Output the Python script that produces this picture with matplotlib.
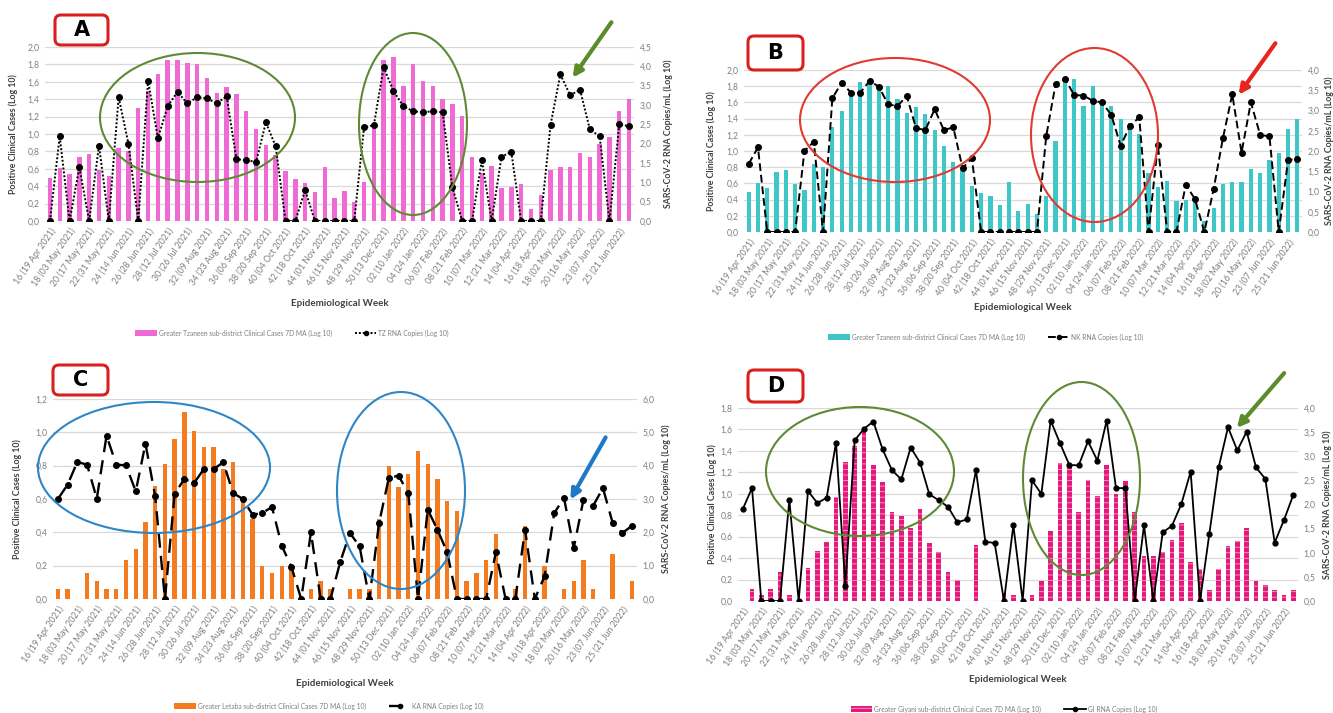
import matplotlib
matplotlib.use("Agg")
import matplotlib.pyplot as plt
import numpy as np
from matplotlib.patches import Ellipse, FancyBboxPatch, FancyArrowPatch, Patch
from matplotlib.lines import Line2D
from matplotlib.ticker import FuncFormatter, MultipleLocator

W, H = 1333, 713
plt.rcParams["font.family"] = ["Lato", "DejaVu Sans"]
plt.rcParams["hatch.linewidth"] = 0.6

# Epidemiological weeks (every second week is labelled on the axis)
week_labels = [
    "16 (19 Apr 2021)", "18 (03 May 2021)", "20 (17 May 2021)", "22 (31 May 2021)",
    "24 (14 Jun 2021)", "26 (28 Jun 2021)", "28 (12 Jul 2021)", "30 (26 Jul 2021)",
    "32 (09 Aug 2021)", "34 (23 Aug 2021)", "36 (06 Sep 2021)", "38 (20 Sep 2021)",
    "40 (04 Oct 2021)", "42 (18 Oct 2021)", "44 (01 Nov 2021)", "46 (15 Nov 2021)",
    "48 (29 Nov 2021)", "50 (13 Dec 2021)", "02 (10 Jan 2022)", "04 (24 Jan 2022)",
    "06 (07 Feb 2022)", "08 (21 Feb 2022)", "10 (07 Mar 2022)", "12 (21 Mar 2022)",
    "14 (04 Apr 2022)", "16 (18 Apr 2022)", "18 (02 May 2022)", "20 (16 May 2022)",
    "23 (07 Jun 2022)", "25 (21 Jun 2022)",
]
n_weeks = 60

# Greater Tzaneen clinical cases, 7-day moving average (log10)
tz_cases = [0.50, 0.61, 0.545, 0.74, 0.77, 0.59, 0.52, 0.84, 0.80, 1.30,
            1.50, 1.69, 1.85, 1.855, 1.82, 1.80, 1.64, 1.47, 1.54, 1.46,
            1.26, 1.06, 0.87, 0.76, 0.57, 0.48, 0.44, 0.33, 0.62, 0.26,
            0.35, 0.22, 0.45, 1.12, 1.85, 1.89, 1.55, 1.80, 1.61, 1.55,
            1.40, 1.34, 1.21, 0.73, 0.55, 0.63, 0.38, 0.39, 0.42, 0.14,
            0.30, 0.59, 0.62, 0.62, 0.78, 0.73, 0.89, 0.97, 1.27, 1.40]
# TZ wastewater SARS-CoV-2 RNA copies/mL (log10)
tz_rna = [0, 2.19, 0, 1.39, 0, 1.95, 0, 3.20, 2.00, 0,
          3.63, 2.14, 2.97, 3.34, 3.04, 3.20, 3.17, 3.04, 3.23, 1.60,
          1.57, 1.53, 2.55, 1.93, 0, 0, 0.80, 0, 0, 0,
          0, 0, 2.42, 2.48, 3.98, 3.36, 2.97, 2.84, 2.81, 2.84,
          2.81, 0.87, 0, 0, 1.57, 0, 1.66, 1.79, 0, 0,
          0, 2.49, 3.79, 3.25, 3.40, 2.37, 2.19, 0, 2.50, 2.45]
# NK wastewater RNA copies/mL (log10)
nk_rna = [1.68, 2.09, 0, 0, 0, 0, 2.00, 2.23, 0, 3.30,
          3.69, 3.44, 3.44, 3.73, 3.59, 3.15, 3.11, 3.36, 2.56, 2.52,
          3.03, 2.51, 2.59, 1.58, 1.82, 0, 0, 0, 0, 0,
          0, 0, 2.37, 3.65, 3.79, 3.38, 3.37, 3.24, 3.20, 2.89,
          2.13, 2.62, 2.83, 0, 2.15, 0, 0, 1.17, 0.81, 0,
          1.06, 2.32, 3.40, 1.96, 3.20, 2.40, 2.36, 0, 1.77, 1.81]
# Greater Letaba clinical cases, 7-day moving average (log10)
ka_cases = [0.06, 0.06, 0, 0.156, 0.106, 0.06, 0.06, 0.236, 0.30, 0.46,
            0.68, 0.81, 0.96, 1.12, 1.01, 0.91, 0.91, 0.78, 0.82, 0.59,
            0.48, 0.20, 0.156, 0.20, 0.18, 0, 0.06, 0.106, 0.06, 0,
            0.06, 0.06, 0.06, 0.48, 0.80, 0.67, 0.75, 0.89, 0.81, 0.72,
            0.59, 0.53, 0.106, 0.156, 0.236, 0.39, 0, 0.06, 0.44, 0,
            0.20, 0, 0.06, 0.106, 0.236, 0.06, 0, 0.27, 0, 0.106]
# KA wastewater RNA copies/mL (log10)
ka_rna = [3.00, 3.43, 4.11, 4.03, 3.01, 4.90, 4.03, 4.01, 3.23, 4.66,
          3.08, 0, 3.16, 3.60, 3.48, 3.90, 3.90, 4.10, 3.18, 3.00,
          2.53, 2.58, 2.76, 1.60, 0.96, 0, 2.00, 0, 0, 1.10,
          1.98, 1.58, 0, 2.28, 3.63, 3.70, 3.18, 0, 2.68, 2.08,
          1.40, 0, 0, 0, 0, 1.40, 0, 0, 2.08, 0,
          0.68, 2.58, 3.03, 1.53, 2.98, 2.80, 3.33, 2.28, 1.98, 2.20]
# Greater Giyani clinical cases, 7-day moving average (log10)
gi_cases = [0, 0.11, 0.055, 0.11, 0.27, 0.06, 0, 0.31, 0.47, 0.55,
            0.97, 1.30, 1.45, 1.58, 1.27, 1.11, 0.83, 0.79, 0.68, 0.86,
            0.54, 0.46, 0.27, 0.20, 0, 0.52, 0, 0, 0.07, 0.056,
            0, 0.056, 0.19, 0.65, 1.29, 1.25, 0.83, 1.13, 0.98, 1.27,
            1.00, 1.12, 0.83, 0.42, 0.42, 0.46, 0.57, 0.73, 0.36, 0.30,
            0.10, 0.30, 0.51, 0.56, 0.68, 0.19, 0.15, 0.10, 0.06, 0.10]
# GI wastewater RNA copies/mL (log10)
gi_rna = [1.90, 2.34, 0, 0, 0, 2.09, 0, 2.28, 2.03, 2.14,
          3.28, 0.32, 3.33, 3.57, 3.72, 3.14, 2.71, 2.52, 3.18, 2.87,
          2.21, 2.09, 1.95, 1.63, 1.69, 2.71, 1.23, 1.20, 0, 1.57,
          0, 2.50, 2.22, 3.74, 3.27, 2.82, 2.81, 3.31, 2.91, 3.74,
          2.34, 2.34, 0, 1.57, 0, 1.42, 1.56, 2.01, 2.68, 0,
          1.39, 2.77, 3.60, 3.12, 3.51, 2.77, 2.53, 1.21, 1.68, 2.20]

GRID = "#D9D9D9"
TICK = "#7F7F7F"
LABEL = "#404040"
comma = FuncFormatter(lambda v, p: f"{v:.1f}".replace(".", ","))

fig = plt.figure(figsize=(W / 100, H / 100), dpi=100)
fig.patch.set_facecolor("white")


def fx(x):
    return x / W


def fy(y):
    return 1 - y / H


def panel(box, cases, rna, bar_color, bar_label, line_label, line_kw,
          lmax, rmax, rstep, ylab_x, rlab_x, xlab_y, leg_xy,
          hatch=None, hatch_color="white"):
    l, t, r, b = box
    ax = fig.add_axes([fx(l), fy(b), (r - l) / W, (b - t) / H])
    x = np.arange(n_weeks)
    if hatch:
        ax.bar(x, cases, width=0.48, color=bar_color, edgecolor=hatch_color,
               linewidth=0, hatch=hatch, zorder=2)
    else:
        ax.bar(x, cases, width=0.45, color=bar_color, linewidth=0, zorder=2)
    ax.set_xlim(-0.5, n_weeks - 0.5)
    ax.set_ylim(0, lmax)
    ax.yaxis.set_major_locator(MultipleLocator(0.2))
    ax.yaxis.set_major_formatter(comma)
    ax.grid(axis="y", color=GRID, linewidth=0.9, zorder=0)
    ax.set_axisbelow(True)
    for s in ax.spines.values():
        s.set_visible(False)
    ax.tick_params(axis="both", length=0, colors=TICK, labelsize=6.2, pad=4)
    ax.set_xticks(x[::2])
    ax.set_xticklabels(week_labels, rotation=55, ha="right",
                       rotation_mode="anchor", fontsize=6.3, color=TICK)
    ax.set_ylabel("Positive Clinical Cases (Log 10)", fontsize=6.3,
                  fontweight="bold", color=LABEL)
    ax.yaxis.set_label_coords(fx(ylab_x), fy((t + b) / 2), transform=fig.transFigure)

    ax2 = ax.twinx()
    ax2.plot(x, rna, color="black", marker="o", markersize=line_kw.get("ms", 4),
             linewidth=line_kw["lw"], linestyle=line_kw["ls"], zorder=3)
    ax2.set_ylim(0, rmax)
    ax2.yaxis.set_major_locator(MultipleLocator(rstep))
    ax2.yaxis.set_major_formatter(comma)
    for s in ax2.spines.values():
        s.set_visible(False)
    ax2.tick_params(axis="y", length=0, colors=TICK, labelsize=6.2, pad=4)
    ax2.set_ylabel("SARS-CoV-2 RNA Copies/mL (Log 10)", fontsize=6.3,
                   fontweight="bold", color=LABEL)
    ax2.yaxis.set_label_coords(fx(rlab_x), fy((t + b) / 2), transform=fig.transFigure)

    fig.text(fx((l + r) / 2), fy(xlab_y), "Epidemiological Week", ha="center",
             va="center", fontsize=7, fontweight="bold", color=LABEL)
    handles = [Patch(facecolor=bar_color, edgecolor=hatch_color if hatch else bar_color,
                     hatch=hatch, linewidth=0),
               Line2D([], [], color="black", marker="o", markersize=3,
                      linewidth=line_kw["lw"], linestyle=line_kw["ls"])]
    ax.legend(handles, [bar_label, line_label], loc="center",
              bbox_to_anchor=(fx(leg_xy[0]), fy(leg_xy[1])),
              bbox_transform=fig.transFigure, ncol=2, frameon=False,
              fontsize=4.8, labelcolor=TICK, handlelength=3.2, handleheight=0.9,
              columnspacing=3.5, handletextpad=0.3)
    return ax


panel((45, 47, 634, 221), tz_cases, tz_rna, "#EF6BD3",
      "Greater Tzaneen sub-district Clinical Cases 7D MA (Log 10)",
      "TZ RNA Copies (Log 10)", dict(ls=(0, (1, 1)), lw=1.4),
      2.0, 4.5, 0.5, 18, 663, 303, (292, 333))
panel((744, 70, 1302, 232), tz_cases, nk_rna, "#3FC6C6",
      "Greater Tzaneen sub-district Clinical Cases 7D MA (Log 10)",
      "NK RNA Copies (Log 10)", dict(ls=(0, (4, 2)), lw=1.4),
      2.0, 4.0, 0.5, 716, 1324, 308, (986, 337))
panel((53, 399, 637, 599), ka_cases, ka_rna, "#F47B20",
      "Greater Letaba sub-district Clinical Cases 7D MA (Log 10)",
      "KA RNA Copies (Log 10)", dict(ls=(0, (6, 3.5)), lw=1.7),
      1.2, 6.0, 1.0, 22, 661, 683, (329, 706))
panel((738, 408, 1298, 601), gi_cases, gi_rna, "#E5197B",
      "Greater Giyani sub-district Clinical Cases 7D MA (Log 10)",
      "GI RNA Copies (Log 10)", dict(ls="-", lw=1.3, ms=3.5),
      1.8, 4.0, 0.5, 717, 1322, 680, (1004, 709),
      hatch="---", hatch_color="#F7A3C8")

# Panel letters in rounded red boxes
for letter, (l, t, r, b) in {"A": (55, 15, 108, 45), "B": (748, 36, 803, 70),
                             "C": (53, 365, 108, 395), "D": (748, 370, 803, 402)}.items():
    box = FancyBboxPatch((fx(l), fy(b)), (r - l) / W, (b - t) / H,
                         boxstyle=f"round,pad=0,rounding_size={6 / W}",
                         mutation_aspect=W / H, transform=fig.transFigure,
                         facecolor="white", edgecolor="#D9201E", linewidth=2.2)
    fig.add_artist(box)
    fig.text(fx((l + r) / 2), fy((t + b) / 2), letter, ha="center", va="center",
             fontsize=15, fontweight="bold", color="black",
             family=["DejaVu Sans"])

# Highlighted waves
ellipses = [
    ((100, 53, 295, 182), "#5E8A35"), ((359, 33, 467, 215), "#5E8A35"),
    ((800, 58, 990, 182), "#E03A32"), ((1031, 48, 1158, 222), "#E03A32"),
    ((38, 402, 270, 533), "#2F86C6"), ((337, 392, 465, 589), "#2F86C6"),
    ((766, 407, 954, 536), "#5E8A35"), ((1023, 382, 1140, 575), "#5E8A35"),
]
for (l, t, r, b), c in ellipses:
    fig.add_artist(Ellipse((fx((l + r) / 2), fy((t + b) / 2)), (r - l) / W, (b - t) / H,
                           transform=fig.transFigure, fill=False, edgecolor=c,
                           linewidth=1.5, zorder=5))

# Arrows pointing at the latest peaks
arrows = [((613, 20), (571, 80), "#5B8C2A"), ((1277, 41), (1237, 97), "#E8241C"),
          ((607, 435), (569, 502), "#1F78C8"), ((1286, 371), (1235, 430), "#5B8C2A")]
for (x0, y0), (x1, y1), c in arrows:
    fig.add_artist(FancyArrowPatch((fx(x0), fy(y0)), (fx(x1), fy(y1)),
                                   transform=fig.transFigure, arrowstyle="-|>",
                                   mutation_scale=14, linewidth=3, color=c, zorder=6))

fig.savefig("out.png", dpi=100)
